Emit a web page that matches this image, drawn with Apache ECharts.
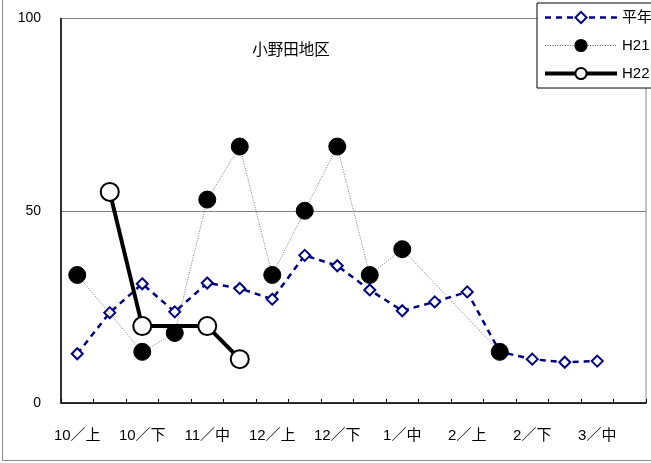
<!DOCTYPE html>
<html><head><meta charset="utf-8">
<script src="https://cdn.jsdelivr.net/npm/echarts@6/dist/echarts.min.js"></script>
<style>html,body{margin:0;padding:0;background:#fff}#c{width:651px;height:463px}</style>
</head><body><div id="c"></div>
<script>
const categories = ['10／上','10／中','10／下','11／上','11／中','11／下','12／上','12／中','12／下','1／上','1／中','1／下','2／上','2／中','2／下','3／上','3／中','3／下'];
const normalValues = [12.8, 23.5, 31.0, 23.7, 31.2, 29.8, 27.0, 38.4, 35.7, 29.4, 24.0, 26.3, 28.9, 13.3, 11.4, 10.6, 10.9, null];
const h21Values = [33.3, null, 13.3, 18.2, 52.9, 66.7, 33.3, 50.0, 66.7, 33.3, 40.0, null, null, 13.3, null, null, null, null];
const h22Values = [null, 54.9, 20.0, null, 20.0, 11.4, null, null, null, null, null, null, null, null, null, null, null, null];
const yTicks = [0, 50, 100];
const titleText = '小野田地区';
const seriesNames = ['平年', 'H21', 'H22'];

const FONT = '"Liberation Sans", "Noto Sans CJK JP", sans-serif';
const chart = echarts.init(document.getElementById('c'), null, {renderer: 'canvas'});
chart.setOption({
  animation: false,
  backgroundColor: '#fff',
  textStyle: {fontFamily: FONT},
  graphic: [{
    type: 'rect', z: -10, silent: true,
    shape: {x: 2.5, y: -5, width: 700, height: 465.5},
    style: {fill: 'none', stroke: '#8a8a8a', lineWidth: 1}
  }],
  title: {
    text: titleText, left: 286, top: 36, textAlign: 'center',
    textStyle: {fontSize: 15.5, fontWeight: 'normal', color: '#000', fontFamily: '"Noto Sans CJK JP", sans-serif'}
  },
  legend: {
    data: [
      {name: seriesNames[0], lineStyle: {width: 2.5}},
      {name: seriesNames[1], lineStyle: {width: 1}},
      {name: seriesNames[2], lineStyle: {width: 4}}
    ],
    orient: 'vertical', left: 537, top: 3,
    itemWidth: 72, itemHeight: 14, itemGap: 13,
    padding: [7, 40, 7, 6],
    borderColor: '#000', borderWidth: 1, backgroundColor: '#fff',
    textStyle: {fontSize: 15, color: '#000', fontFamily: FONT}
  },
  grid: {left: 61, top: 18.5, right: 5, bottom: 60, show: true, borderColor: '#888', borderWidth: 1},
  xAxis: {
    type: 'category', data: categories, boundaryGap: true,
    axisLine: {lineStyle: {color: '#000', width: 1.5}},
    axisTick: {show: true, inside: true, length: 4, interval: 0, lineStyle: {color: '#000'}},
    axisLabel: {interval: 1, margin: 25, fontSize: 15, color: '#000', fontFamily: FONT}
  },
  yAxis: {
    type: 'value', min: yTicks[0], max: yTicks[yTicks.length - 1], interval: 50,
    axisLine: {show: true, lineStyle: {color: '#000', width: 1.5}},
    axisTick: {show: false},
    splitLine: {show: true, lineStyle: {color: '#808080', width: 1}},
    axisLabel: {margin: 20, fontSize: 14, color: '#000', fontFamily: FONT}
  },
  series: [
    {
      name: seriesNames[0], type: 'line', data: normalValues,
      symbol: 'diamond', symbolSize: 11,
      lineStyle: {color: '#000080', width: 2.5, type: [6, 5]},
      itemStyle: {color: '#fff', borderColor: '#000080', borderWidth: 2},
      z: 2
    },
    {
      name: seriesNames[1], type: 'line', data: h21Values, connectNulls: true,
      symbol: 'circle', symbolSize: 17,
      lineStyle: {color: '#555', width: 0.8, type: [1, 1.5]},
      itemStyle: {color: '#000', borderColor: '#000', borderWidth: 1},
      z: 3
    },
    {
      name: seriesNames[2], type: 'line', data: h22Values, connectNulls: true,
      symbol: 'circle', symbolSize: 18,
      lineStyle: {color: '#000', width: 4},
      itemStyle: {color: '#fff', borderColor: '#000', borderWidth: 2},
      z: 4
    }
  ]
});
</script></body></html>
